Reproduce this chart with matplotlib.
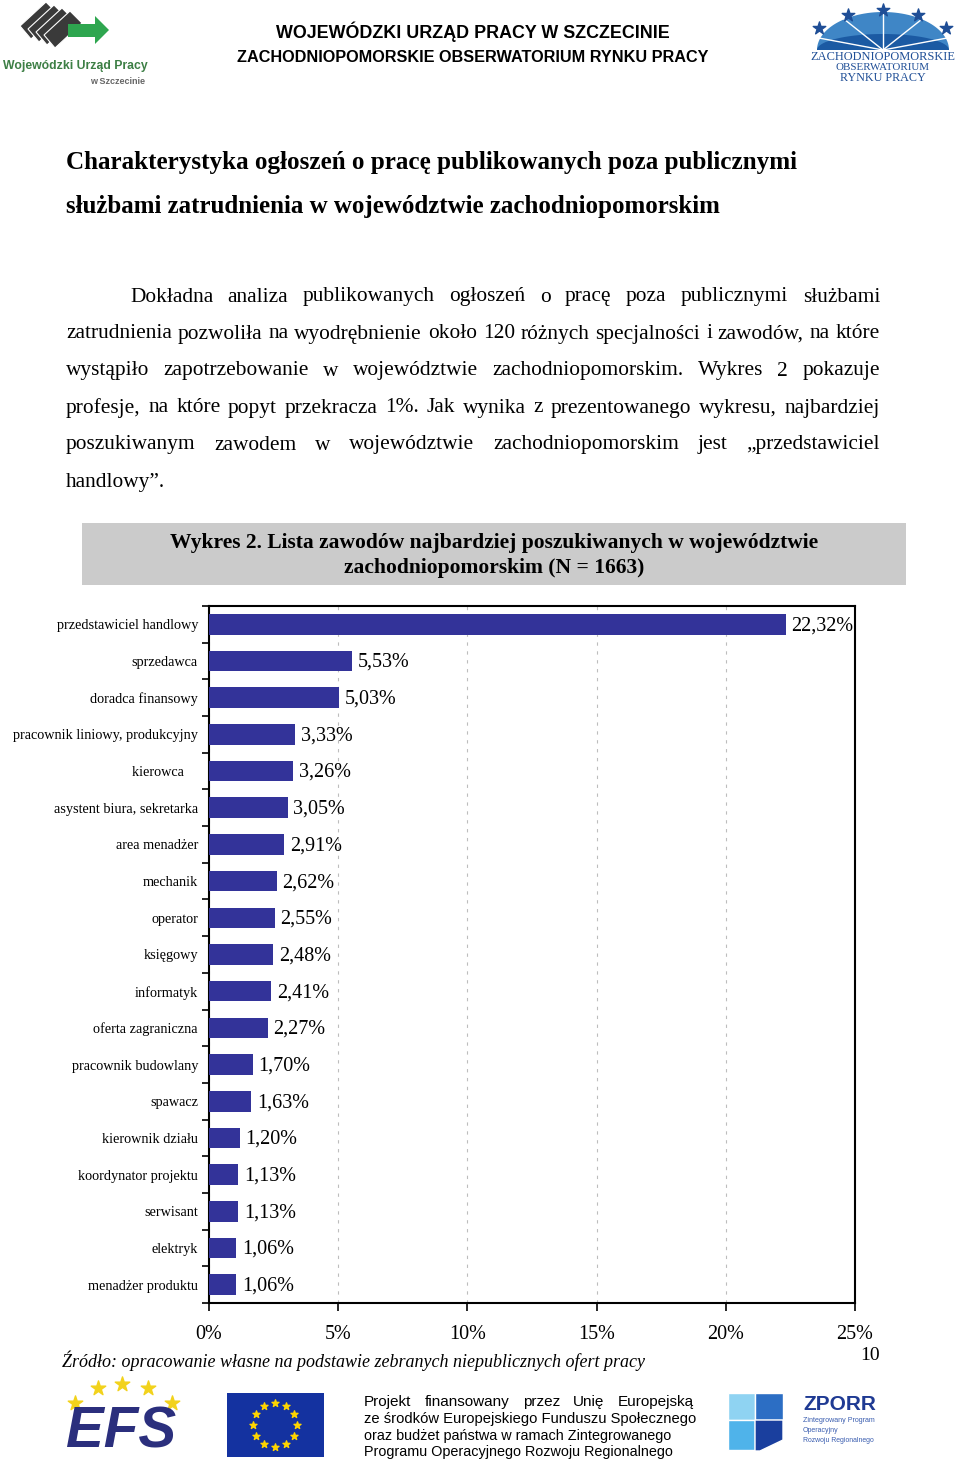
import numpy as np
import matplotlib
matplotlib.use("Agg")
import matplotlib.pyplot as plt
from matplotlib.patches import Rectangle, Polygon
from matplotlib.ticker import FuncFormatter

# chart data (Wykres 2)
zawody = [
    "przedstawiciel handlowy", "sprzedawca", "doradca finansowy",
    "pracownik liniowy, produkcyjny", "kierowca    ", "asystent biura, sekretarka",
    "area menadżer", "mechanik", "operator", "księgowy", "informatyk",
    "oferta zagraniczna", "pracownik budowlany", "spawacz", "kierownik działu",
    "koordynator projektu", "serwisant", "elektryk", "menadżer produktu",
]
udzial = [22.32, 5.53, 5.03, 3.33, 3.26, 3.05, 2.91, 2.62, 2.55, 2.48, 2.41,
          2.27, 1.70, 1.63, 1.20, 1.13, 1.13, 1.06, 1.06]
x_ticks = [0, 5, 10, 15, 20, 25]

body_lines = [
    "Dokładna analiza publikowanych ogłoszeń o pracę poza publicznymi służbami",
    "zatrudnienia pozwoliła na wyodrębnienie około 120 różnych specjalności i zawodów, na które",
    "wystąpiło zapotrzebowanie w województwie zachodniopomorskim. Wykres 2 pokazuje",
    "profesje, na które popyt przekracza 1%. Jak wynika z prezentowanego wykresu, najbardziej",
    "poszukiwanym zawodem w województwie zachodniopomorskim jest „przedstawiciel",
    "handlowy”.",
]
footer_lines = [
    "Projekt finansowany przez Unię Europejską",
    "ze środków Europejskiego Funduszu Społecznego",
    "oraz budżet państwa w ramach Zintegrowanego",
    "Programu Operacyjnego Rozwoju Regionalnego",
]

SERIF = "Liberation Serif"
SANS = "Liberation Sans"
BAR = "#333399"

fig = plt.figure(figsize=(9.6, 14.63), dpi=100)
rend = fig.canvas.get_renderer()

# page overlay in pixel coordinates
bg = fig.add_axes([0, 0, 1, 1], zorder=0)
bg.set_xlim(0, 960)
bg.set_ylim(1463, 0)
bg.axis("off")


def put(x, y, s, w=None, **kw):
    kw.setdefault("va", "center")
    t = bg.text(x, y, s, **kw)
    if w:
        bb = t.get_window_extent(rend)
        t.set_fontsize(t.get_fontsize() * w / bb.width)
    return t


def justify(x0, x1, y, line, **kw):
    words = line.split()
    ts = [bg.text(x0, y, wd, va="center", **kw) for wd in words]
    widths = [t.get_window_extent(rend).width for t in ts]
    gap = (x1 - x0 - sum(widths)) / (len(words) - 1)
    x = x0
    for t, w in zip(ts, widths):
        t.set_x(x)
        x += w + gap


# --- header -------------------------------------------------------------
put(473, 32, "WOJEWÓDZKI URZĄD PRACY W SZCZECINIE", w=393, ha="center",
    family=SANS, weight="bold", fontsize=12)
put(473, 58, "ZACHODNIOPOMORSKIE OBSERWATORIUM RYNKU PRACY", w=472, ha="center",
    family=SANS, weight="bold", fontsize=12)

# left logo: stacked cards + green arrow
for k in range(4):
    dx, dy = 8 * k, 3 * k
    bg.add_patch(Polygon([(20 + dx, 26 + dy), (46 + dx, 2 + dy), (58 + dx, 14 + dy),
                          (31 + dx, 39 + dy)], closed=True, fc="#3a3a3a",
                         ec="white", lw=0.8))
bg.add_patch(Polygon([(68, 24), (95, 24), (95, 16), (109, 30), (95, 44), (95, 37),
                      (68, 37)], closed=True, fc="#2ea64f", ec="none"))
put(3, 66, "Wojewódzki Urząd Pracy", w=144, family=SANS, weight="bold",
    color="#3d7f45", fontsize=12)
put(90, 82, "w Szczecinie", w=56, family=SANS, weight="bold", color="#666666",
    fontsize=6)

# right logo: dome with rays and stars
t = np.linspace(np.pi, 2 * np.pi, 60)
cx, cy = 883, 50
bg.add_patch(Polygon(np.c_[cx + 66 * np.cos(t), cy + 38 * np.sin(t)], closed=True,
                     fc="#3f86c6", ec="none"))
bg.add_patch(Polygon(np.c_[cx + 66 * np.cos(t), cy + 16 * np.sin(t)], closed=True,
                     fc="#1b5aa3", ec="none"))
for a in np.linspace(np.pi * 1.1, np.pi * 1.9, 5):
    bg.plot([cx, cx + 66 * np.cos(a)], [cy, cy + 38 * np.sin(a)], color="white", lw=1)
bg.scatter([819, 848, 883, 918, 946], [28, 15, 10, 15, 28], marker="*", s=90,
           color="#1f4e96", zorder=3)
put(883, 57, "ZACHODNIOPOMORSKIE", w=146, ha="center", family=SERIF,
    color="#1f4e96", fontsize=7)
put(883, 68, "OBSERWATORIUM", w=94, ha="center", family=SERIF, color="#1f4e96",
    fontsize=7)
put(883, 78, "RYNKU PRACY", w=86, ha="center", family=SERIF, color="#1f4e96",
    fontsize=7)

# --- title and body -----------------------------------------------------
put(66, 163, "Charakterystyka ogłoszeń o pracę publikowanych poza publicznymi",
    w=732, family=SERIF, weight="bold", fontsize=17)
put(66, 206, "służbami zatrudnienia w województwie zachodniopomorskim",
    w=659, family=SERIF, weight="bold", fontsize=17)

line_y = [297, 334, 371, 408, 445, 482]
for i, (ln, y) in enumerate(zip(body_lines, line_y)):
    x0 = 130 if i == 0 else 66
    if i < len(body_lines) - 1:
        justify(x0, 880, y, ln, family=SERIF, fontsize=15.4)
    else:
        put(x0, y, ln, family=SERIF, fontsize=15.4)

# caption box
bg.add_patch(Rectangle((82, 523), 824, 62, fc="#cbcbcb", ec="none"))
put(494, 543, "Wykres 2. Lista zawodów najbardziej poszukiwanych w województwie",
    w=649, ha="center", family=SERIF, weight="bold", fontsize=15)
put(494, 568, "zachodniopomorskim (N = 1663)", w=300, ha="center", family=SERIF,
    weight="bold", fontsize=15)

# --- chart --------------------------------------------------------------
ax = fig.add_axes([209 / 960, 1 - 1303 / 1463, (855 - 209) / 960,
                   (1303 - 606) / 1463], zorder=2)
pos = np.arange(len(zawody))
ax.barh(pos, udzial, height=0.56, color=BAR, zorder=3)
for p, v in zip(pos, udzial):
    ax.text(v + 0.22, p + 0.04, f"{v:.2f}".replace(".", ",") + "%", va="center",
            ha="left", family=SERIF, fontsize=14.5, zorder=4)

ax.set_xlim(0, 25)
ax.set_ylim(len(zawody) - 0.5, -0.5)
ax.set_xticks(x_ticks)
ax.xaxis.set_major_formatter(FuncFormatter(lambda v, _: f"{v:.0f}%"))
ax.set_yticks(pos)
ax.set_yticklabels(zawody)
ax.set_yticks(np.arange(-0.5, len(zawody), 1), minor=True)
ax.tick_params(axis="y", which="major", length=0, pad=8, labelsize=10.3)
ax.tick_params(axis="y", which="minor", length=5, width=1.2, direction="out")
ax.tick_params(axis="x", length=6, width=1.2, direction="out", pad=10,
               labelsize=14.5)
for lab in ax.get_xticklabels() + ax.get_yticklabels():
    lab.set_family(SERIF)
ax.xaxis.grid(True, linestyle=(0, (3, 5)), color="#bdbdbd", lw=0.8, zorder=0)
for s in ax.spines.values():
    s.set_linewidth(1.5)
    s.set_color("black")

put(62, 1361, "Źródło: opracowanie własne na podstawie zebranych niepublicznych ofert pracy",
    w=582, family=SERIF, style="italic", fontsize=13)
put(880, 1356, "10", ha="right", family=SERIF, fontsize=14)

# --- footer -------------------------------------------------------------
# EFS
bg.scatter([75, 98, 122, 148, 172], [1403, 1388, 1384, 1388, 1403], marker="*",
           s=120, color="#f2d21b", zorder=3)
put(121, 1432, "EFS", w=110, ha="center", family=SANS, weight="bold",
    style="italic", color="#2b2f7d", fontsize=30)
# EU flag
bg.add_patch(Rectangle((227, 1393), 97, 64, fc="#1432a0", ec="none"))
ang = np.arange(12) * np.pi / 6
bg.scatter(275 + 22 * np.cos(ang), 1425 + 22 * np.sin(ang), marker="*", s=28,
           color="#ffd500", zorder=3)
# text
justify(364, 694, 1402, footer_lines[0], family=SANS, fontsize=11)
put(364, 1419, footer_lines[1], w=330, family=SANS, fontsize=11)
put(364, 1436, footer_lines[2], w=306, family=SANS, fontsize=11)
put(364, 1452, footer_lines[3], w=308, family=SANS, fontsize=11)
# ZPORR puzzle
bg.add_patch(Rectangle((728, 1393), 27, 27, fc="#8fd3f2", ec="white", lw=1))
bg.add_patch(Rectangle((755, 1393), 28, 27, fc="#2c6ec4", ec="white", lw=1))
bg.add_patch(Rectangle((728, 1420), 27, 30, fc="#4fb3ea", ec="white", lw=1))
bg.add_patch(Polygon([(755, 1420), (783, 1420), (783, 1440), (760, 1451), (755, 1451)],
                     closed=True, fc="#1a3f9e", ec="white", lw=1))
put(803, 1405, "ZPORR", w=73, family=SANS, weight="bold", color="#1f3a93",
    fontsize=14)
put(803, 1421, "Zintegrowany Program", w=73, family=SANS, color="#3b5eb0", fontsize=6)
put(803, 1431, "Operacyjny", w=36, family=SANS, color="#3b5eb0", fontsize=6)
put(803, 1441, "Rozwoju Regionalnego", w=72, family=SANS, color="#3b5eb0", fontsize=6)

fig.savefig("out.png", dpi=100, facecolor="white")
